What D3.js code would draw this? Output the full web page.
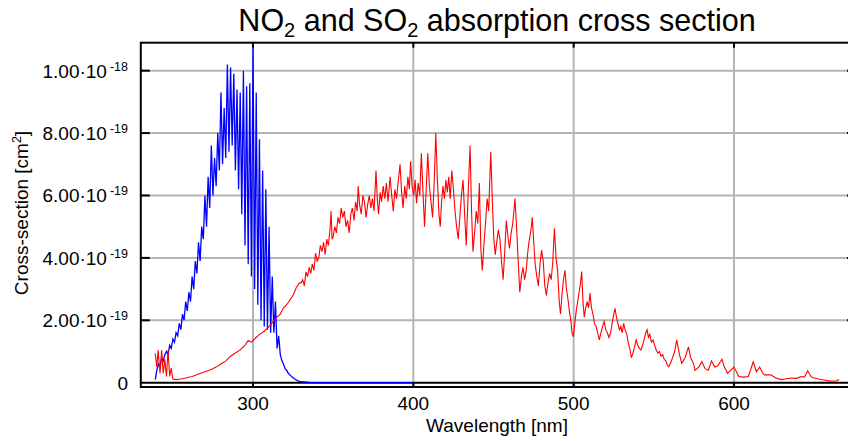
<!DOCTYPE html>
<html>
<head>
<meta charset="utf-8">
<script src="https://cdn.jsdelivr.net/npm/d3@7"></script>
<style>
  body { margin: 0; background: #fff; }
  text { font-family: "Liberation Sans", Arial, sans-serif; fill: #000; }
</style>
</head>
<body>
<div id="chart"></div>
<script>
// SO2 cross section, wavelength [nm] and value [1e-19 cm2]
var so2Wave = [239,240,241,242,243,244,245,246,247,248,249,250,251,252,253,254,255,256,257,258,259,260,
  261,262,263,264,265,266,267,268,269,270,271,272,273,274,275,276,277,278,279,280,281,282,283,284,285,
  286,287,288,289,290,291,292,293,294,295,296,297,298,299,300,301,302,303,304,305,306,307,308,309,310,
  311,312,313,314,315,316,317,318,319,320,321,322,323,324,326,328,330,335,340,400];
var so2Value = [0.1,0.4,0.6,0.5,0.8,0.7,0.9,1.0,0.9,1.2,1.1,1.4,1.3,1.6,1.5,1.9,1.7,2.2,2.0,2.6,2.3,2.9,
  2.6,3.4,3.0,3.9,3.5,4.5,3.9,5.0,4.6,6.0,5.0,6.6,5.6,7.6,6.0,7.2,6.3,8.0,6.8,9.3,7.0,8.8,7.2,10.2,7.4,
  10.1,7.6,9.9,6.8,9.4,6.2,9.3,5.4,10.0,4.4,9.5,3.8,9.6,3.4,10.9,3.0,9.3,2.5,7.8,2.0,6.8,1.8,6.2,1.7,5.0,
  1.6,3.4,1.6,2.6,1.1,1.5,0.9,0.7,0.6,0.45,0.4,0.3,0.25,0.2,0.12,0.06,0.03,0.01,0,0];

// NO2 cross section, wavelength [nm] and value [1e-19 cm2]
var no2Wave = [239,240,240.8,242,243,244,245,246,247,248,249,250,252,255,258,262,266,270,274,277,280,283,
  286,289,292,295,297,299,301,304,307,309,311,313,315,317,319,321,323,325,327,329,
  330,331,332,333,334,335,336,337,338,339,340,341,342,343,344,345,346,347,348,348.7,349.3,350,351,352,353,
  354,355,356,357,358,359,360,361,362,363,364,365,365.6,366.5,367.5,368.5,369.5,370.5,371.5,372.5,373.5,
  374.5,375.5,376.7,377.5,378.3,379.3,380.2,381.2,382.2,383.2,384.2,385.5,386.5,387.5,388.5,389.5,390.5,
  391.7,392.7,393.6,394.6,395.6,396.6,397.5,398.3,399.2,400.2,401.1,402,403,404,405,406,407,408,409,410,
  411,412,413,414,415,416,416.8,417.6,418.5,419.4,420.3,421.2,422.1,423,424,425,426,427,428,429,430,431,
  432,433,434,435.4,436.3,437.2,438.2,439.2,440.2,441.2,442.1,443,444,445,446,447,448.3,449.3,450.2,451.1,
  452,453,454,455,456,457,458,459,460,461,462,463.4,464.4,465.4,466.4,467.4,468.4,469.4,470.4,471.4,472.4,
  473.4,474.2,475.1,476,477,478,479,480,481,482,483,484,485,486,487,488,489,490,491,491.8,492.7,493.6,
  494.6,495.5,496.4,497.3,498.2,499,499.8,500.7,501.6,502.5,503.4,504.3,505,505.8,506.6,507.5,508.4,509.3,
  510.2,511.1,512,513,514,515,516,517,518,519,520,521,522,523,524,525,525.8,526.7,527.6,528.5,529.4,530.3,
  531.2,532.1,533,534,535,536,537,538,539,540,541,542,543,544,545,545.8,546.6,547.5,548.5,549.5,550.5,
  551.5,552.5,553.5,554.5,555.5,556.5,557.5,558.5,559.3,
  561,563,564.3,566,567.4,569.5,571.6,573,574.7,575.7,578,580,582,584,586,588,590,592.5,594,596,598,600,
  601.5,603,606,609,612,614,616,618,619,623,626,629.5,632,635.7,639,642,644,646,648,649,651,654,657,660,
  664,665.5];
var no2Value = [0.94,0.5,1.05,0.3,1.05,0.3,0.75,0.2,1.05,0.2,0.47,0.12,0.1,0.12,0.15,0.2,0.28,0.35,0.42,0.5,
  0.6,0.7,0.85,0.95,1.05,1.2,1.35,1.3,1.4,1.55,1.65,1.75,1.85,2.0,2.1,2.2,2.4,2.5,2.65,2.8,3.05,3.2,
  3.2,3.3,3.1,3.55,3.4,3.7,3.5,3.8,3.6,4.15,3.9,4.0,4.4,4.2,4.5,4.1,4.6,4.4,4.9,5.5,4.6,4.68,5.0,4.8,5.3,
  5.1,5.6,5.3,5.5,5.0,5.2,4.8,5.4,5.6,5.2,5.8,5.5,6.3,5.7,5.4,6.0,5.8,5.3,5.7,6.0,5.6,
  5.9,5.5,6.8,5.9,5.4,6.1,5.8,6.3,5.9,6.4,5.8,6.6,6.0,5.5,6.2,5.9,6.4,
  7.0,6.1,5.6,6.3,5.9,6.6,6.2,7.1,6.3,6.0,6.5,5.75,6.4,6.0,7.35,6.1,5.0,6.2,7.35,6.3,
  5.8,5.3,6.4,8.0,6.5,5.4,5.0,5.8,6.3,5.9,6.5,6.1,6.6,5.9,6.8,6.2,5.5,5.0,4.6,5.3,6.0,6.5,
  5.4,4.4,5.8,7.6,5.5,4.2,4.8,5.5,5.1,6.4,4.3,3.6,4.4,5.1,5.9,5.5,7.4,5.8,4.6,4.1,
  4.5,4.9,4.6,3.9,3.3,4.2,5.2,4.7,4.3,4.8,5.1,5.9,5.0,3.9,2.9,3.4,3.7,3.3,3.6,4.2,4.6,
  4.9,5.3,4.5,3.8,3.4,3.1,3.8,4.25,3.9,3.1,2.8,3.2,3.5,3.3,3.9,4.95,4.0,3.6,2.6,2.2,2.8,3.3,
  3.6,3.0,2.7,2.3,2.0,1.6,1.47,1.9,2.3,2.6,2.9,3.2,3.56,2.6,2.1,2.4,2.6,2.4,
  2.87,2.4,2.2,1.9,1.8,1.6,1.37,1.6,1.8,1.96,1.7,1.6,1.45,1.6,1.9,2.2,2.38,2.1,1.9,1.7,1.8,1.6,
  1.9,1.7,1.58,1.3,1.1,0.8,0.95,1.15,1.37,1.2,1.1,1.05,1.2,1.4,1.6,1.7,1.45,1.55,1.3,1.37,1.2,
  1.05,0.95,1.0,0.85,0.9,0.75,0.7,0.55,0.51,
  0.7,1.0,1.37,0.9,0.62,0.8,1.15,0.8,0.62,0.4,0.5,0.67,0.45,0.4,0.7,0.5,0.55,0.75,0.5,0.3,0.4,0.5,
  0.35,0.2,0.18,0.2,0.67,0.35,0.5,0.3,0.25,0.25,0.15,0.1,0.12,0.15,0.14,0.2,0.18,0.38,0.2,0.16,0.14,0.1,
  0.08,0.05,0.06,0.1];

var xTicks = [300, 400, 500, 600];
var yTicks = [0, 2, 4, 6, 8, 10];
var yTickMain = ["0", "2.00\u00b710", "4.00\u00b710", "6.00\u00b710", "8.00\u00b710", "1.00\u00b710"];
var yTickExp = ["", "-19", "-19", "-19", "-19", "-18"];

function init() {
  var w = 848, h = 441;
  var left = 140.8, right = 846.2, top = 42.7, bottom = 387;

  var svg = d3.select("#chart").append("svg")
    .attr("width", w)
    .attr("height", h);

  var x = d3.scaleLinear().domain([230, 670]).range([left, right]);
  var y = d3.scaleLinear().domain([-0.138, 10.897]).range([bottom, top]);

  // grid
  svg.selectAll("line.vgrid").data(xTicks).enter().append("line")
    .attr("x1", function(d) { return x(d); })
    .attr("x2", function(d) { return x(d); })
    .attr("y1", top).attr("y2", bottom)
    .attr("stroke", "#b4b4b4").attr("stroke-width", 2);
  svg.selectAll("line.hgrid").data(yTicks.slice(1)).enter().append("line")
    .attr("x1", left).attr("x2", w + 10)
    .attr("y1", function(d) { return y(d); })
    .attr("y2", function(d) { return y(d); })
    .attr("stroke", "#b4b4b4").attr("stroke-width", 2);

  // zero line
  svg.append("line")
    .attr("x1", left).attr("x2", w + 10)
    .attr("y1", y(0)).attr("y2", y(0))
    .attr("stroke", "#000").attr("stroke-width", 2);

  svg.append("clipPath").attr("id", "clip")
    .append("rect").attr("x", left).attr("y", top)
    .attr("width", w + 10 - left).attr("height", bottom - top);

  var line = d3.line()
    .x(function(d) { return x(d[0]); })
    .y(function(d) { return y(d[1]); });

  var so2 = d3.zip(so2Wave, so2Value);
  var no2 = d3.zip(no2Wave, no2Value);

  var g = svg.append("g").attr("clip-path", "url(#clip)");
  g.append("path").datum(so2)
    .attr("d", line)
    .attr("fill", "none").attr("stroke", "#0000ff").attr("stroke-width", 1.3);
  g.append("path").datum(no2)
    .attr("d", line)
    .attr("fill", "none").attr("stroke", "#ff0000").attr("stroke-width", 1.1);

  // frame (right side sits outside the picture)
  svg.append("rect")
    .attr("x", left).attr("y", top)
    .attr("width", w + 8 - left).attr("height", bottom - top)
    .attr("fill", "none").attr("stroke", "#000").attr("stroke-width", 2);

  // ticks
  xTicks.forEach(function(t) {
    svg.append("line").attr("x1", x(t)).attr("x2", x(t))
      .attr("y1", top).attr("y2", top + 5)
      .attr("stroke", "#000").attr("stroke-width", 2);
    svg.append("line").attr("x1", x(t)).attr("x2", x(t))
      .attr("y1", bottom).attr("y2", bottom - 5)
      .attr("stroke", "#000").attr("stroke-width", 2);
  });
  yTicks.slice(1).forEach(function(t) {
    svg.append("line").attr("x1", left).attr("x2", left + 9)
      .attr("y1", y(t)).attr("y2", y(t))
      .attr("stroke", "#000").attr("stroke-width", 2);
    svg.append("line").attr("x1", w + 8).attr("x2", w - 1)
      .attr("y1", y(t)).attr("y2", y(t))
      .attr("stroke", "#000").attr("stroke-width", 2);
  });

  // x tick labels
  svg.selectAll("text.xt").data(xTicks).enter().append("text")
    .attr("x", function(d) { return x(d); })
    .attr("y", 410)
    .attr("text-anchor", "middle")
    .attr("font-size", 19)
    .text(function(d) { return d; });

  // y tick labels
  yTicks.forEach(function(t, i) {
    var tx = svg.append("text")
      .attr("x", 128).attr("y", y(t) + 7)
      .attr("text-anchor", "end")
      .attr("font-size", 19);
    tx.append("tspan").text(yTickMain[i]);
    if (yTickExp[i]) {
      tx.append("tspan").attr("font-size", 12.5).attr("dx", 3).attr("dy", -7).text(yTickExp[i]);
    }
  });

  // axis titles
  svg.append("text")
    .attr("x", 497).attr("y", 432)
    .attr("text-anchor", "middle").attr("font-size", 19)
    .text("Wavelength [nm]");

  var yl = svg.append("text")
    .attr("transform", "translate(28,213) rotate(-90)")
    .attr("text-anchor", "middle").attr("font-size", 19);
  yl.append("tspan").text("Cross-section [cm");
  yl.append("tspan").attr("font-size", 12.5).attr("dy", -7).text("2");
  yl.append("tspan").attr("font-size", 19).attr("dy", 7).text("]");

  // title
  var tt = svg.append("text")
    .attr("x", 497).attr("y", 31)
    .attr("text-anchor", "middle").attr("font-size", 30.5);
  tt.append("tspan").text("NO");
  tt.append("tspan").attr("font-size", 20).attr("dy", 6).text("2");
  tt.append("tspan").attr("dy", -6).text(" and SO");
  tt.append("tspan").attr("font-size", 20).attr("dy", 6).text("2");
  tt.append("tspan").attr("dy", -6).text(" absorption cross section");
}

window.onload = init;
</script>
</body>
</html>
